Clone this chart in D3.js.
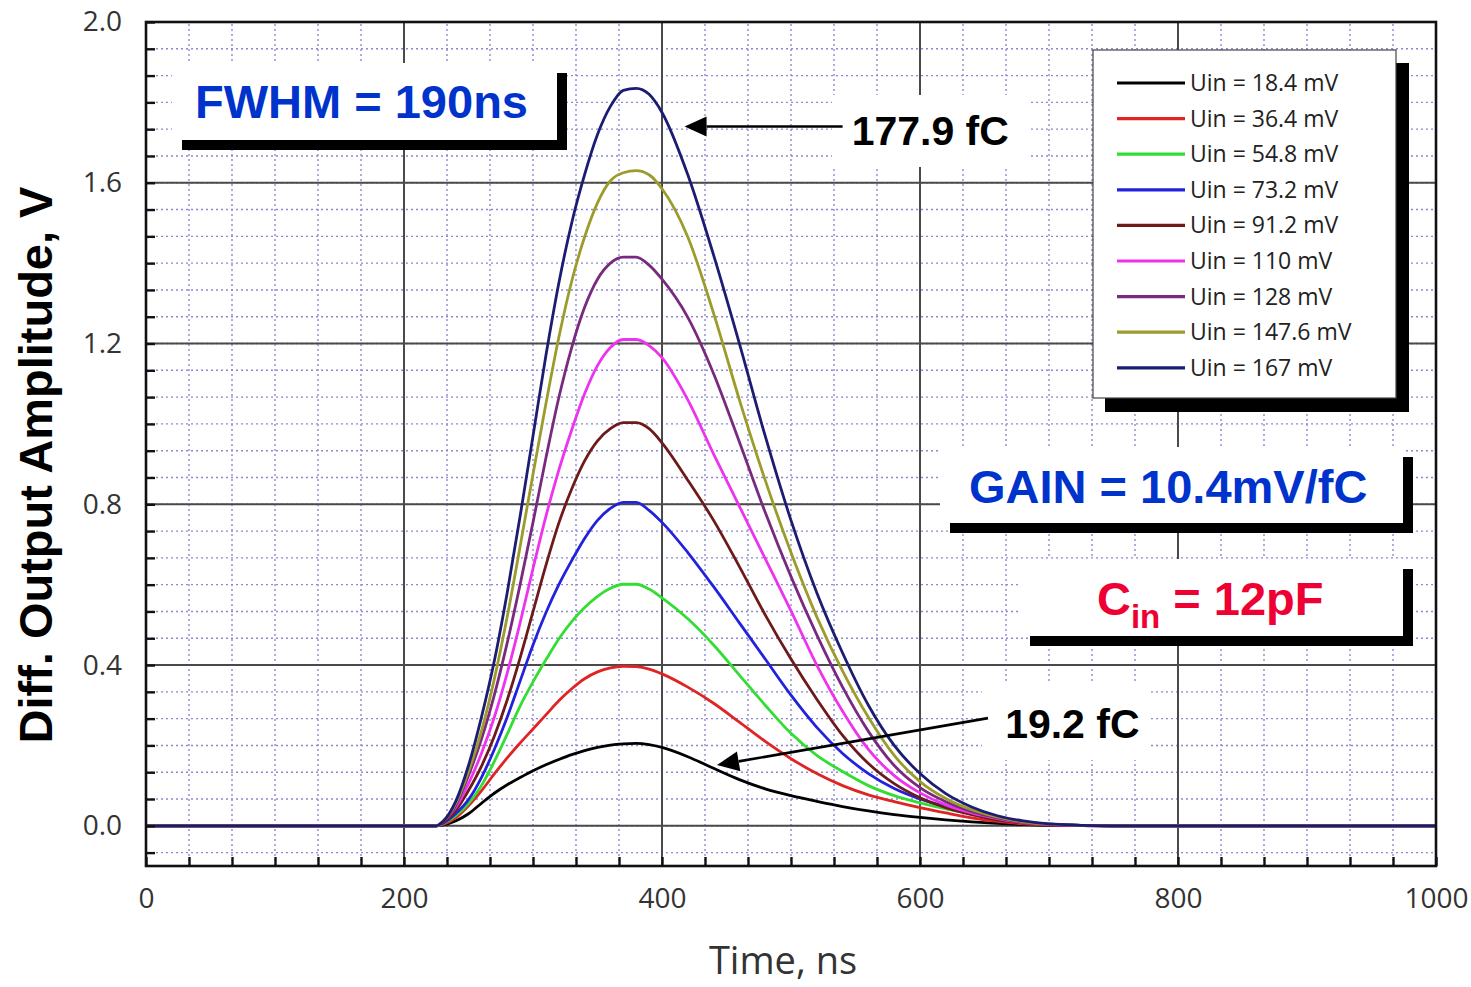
<!DOCTYPE html>
<html>
<head>
<meta charset="utf-8">
<script src="https://cdn.jsdelivr.net/npm/d3@7"></script>
<style>
  body { margin: 0; background: #fff; }
  svg { display: block; }
</style>
</head>
<body>
<svg id="chart" width="1471" height="987"></svg>
<script>
// DATA (time in ns, amplitude in V)
const times = [0, 100, 200, 225, 230, 240, 250, 260, 270, 280, 290, 300, 310, 320, 330, 340, 350, 360, 370, 380, 390, 400,
  420, 440, 460, 480, 500, 520, 540, 560, 580, 600, 620, 640, 660, 680, 700, 750, 800, 900, 1000];

const uin184 = [0, 0, 0, 0, 0.002, 0.012, 0.03, 0.056, 0.081, 0.102, 0.12, 0.137, 0.152, 0.165, 0.177, 0.187, 0.195, 0.201, 0.204, 0.205, 0.202, 0.195,
  0.172, 0.143, 0.115, 0.092, 0.075, 0.061, 0.048, 0.037, 0.028, 0.021, 0.015, 0.01, 0.006, 0.003, 0.001, 0, 0, 0, 0];
const uin364 = [0, 0, 0, 0, 0.003, 0.02, 0.05, 0.087, 0.129, 0.169, 0.206, 0.241, 0.276, 0.311, 0.341, 0.366, 0.383, 0.393, 0.397, 0.396, 0.39, 0.378,
  0.345, 0.305, 0.258, 0.21, 0.167, 0.13, 0.10, 0.077, 0.06, 0.045, 0.032, 0.02, 0.011, 0.005, 0.002, 0, 0, 0, 0];
const uin548 = [0, 0, 0, 0, 0.005, 0.025, 0.055, 0.10, 0.16, 0.228, 0.298, 0.358, 0.413, 0.465, 0.508, 0.543, 0.571, 0.591, 0.601, 0.601, 0.589, 0.567,
  0.515, 0.45, 0.375, 0.30, 0.23, 0.175, 0.135, 0.10, 0.075, 0.057, 0.042, 0.03, 0.018, 0.01, 0.004, 0, 0, 0, 0];
const uin732 = [0, 0, 0, 0, 0.006, 0.03, 0.065, 0.12, 0.19, 0.27, 0.36, 0.45, 0.53, 0.60, 0.66, 0.715, 0.76, 0.79, 0.805, 0.805, 0.785, 0.755,
  0.68, 0.595, 0.505, 0.415, 0.325, 0.245, 0.18, 0.13, 0.093, 0.067, 0.048, 0.033, 0.02, 0.01, 0.004, 0, 0, 0, 0];
const uin912 = [0, 0, 0, 0, 0.008, 0.038, 0.088, 0.148, 0.223, 0.313, 0.418, 0.533, 0.648, 0.753, 0.838, 0.908, 0.958, 0.988, 1.003, 1.003, 0.988, 0.953,
  0.86, 0.76, 0.645, 0.525, 0.415, 0.315, 0.225, 0.155, 0.105, 0.07, 0.045, 0.028, 0.015, 0.007, 0.002, 0, 0, 0, 0];
const uin110 = [0, 0, 0, 0, 0.01, 0.045, 0.105, 0.18, 0.27, 0.38, 0.505, 0.64, 0.77, 0.885, 0.985, 1.075, 1.145, 1.19, 1.21, 1.21, 1.195, 1.165,
  1.06, 0.925, 0.795, 0.665, 0.535, 0.40, 0.285, 0.19, 0.125, 0.082, 0.052, 0.032, 0.018, 0.008, 0.003, 0, 0, 0, 0];
const uin128 = [0, 0, 0, 0, 0.01, 0.05, 0.125, 0.215, 0.325, 0.455, 0.60, 0.755, 0.915, 1.065, 1.19, 1.29, 1.36, 1.40, 1.415, 1.415, 1.395, 1.36,
  1.265, 1.125, 0.955, 0.78, 0.62, 0.475, 0.345, 0.235, 0.15, 0.095, 0.06, 0.036, 0.02, 0.009, 0.003, 0, 0, 0, 0];
const uin1476 = [0, 0, 0, 0, 0.01, 0.055, 0.135, 0.235, 0.365, 0.52, 0.695, 0.875, 1.05, 1.215, 1.355, 1.465, 1.55, 1.605, 1.625, 1.63, 1.62, 1.585,
  1.465, 1.275, 1.06, 0.86, 0.68, 0.52, 0.385, 0.27, 0.175, 0.11, 0.068, 0.04, 0.022, 0.01, 0.004, 0, 0, 0, 0];
const uin167 = [0, 0, 0, 0, 0.01, 0.06, 0.15, 0.27, 0.41, 0.58, 0.77, 0.97, 1.17, 1.35, 1.50, 1.62, 1.72, 1.79, 1.83, 1.835, 1.82, 1.775,
  1.62, 1.42, 1.20, 0.97, 0.76, 0.58, 0.43, 0.30, 0.20, 0.13, 0.08, 0.047, 0.025, 0.012, 0.005, 0, 0, 0, 0];

const seriesNames = ["Uin = 18.4 mV", "Uin = 36.4 mV", "Uin = 54.8 mV", "Uin = 73.2 mV", "Uin = 91.2 mV",
  "Uin = 110 mV", "Uin = 128 mV", "Uin = 147.6 mV", "Uin = 167 mV"];
const seriesValues = [uin184, uin364, uin548, uin732, uin912, uin110, uin128, uin1476, uin167];

const xMajor = [0, 200, 400, 600, 800, 1000];
const yMajor = [0, 0.4, 0.8, 1.2, 1.6, 2.0];

// CANVAS SETUP
const svg = d3.select("#chart");
const width = 1471, height = 987;

const x = d3.scaleLinear().domain([0, 1000]).range([146, 1436]);
const y = d3.scaleLinear().domain([-0.1, 2.0]).range([866, 22]);

const color = d3.scaleOrdinal()
  .domain(seriesNames)
  .range(["#000000", "#e02424", "#33dd33", "#2222dd", "#6e1a1a", "#ee33ee", "#7a2a7e", "#9c9c2c", "#1c1c72"]);

const xMinor = d3.range(0, 31).map((i) => (i * 100) / 3);
const yMinor = d3.range(-1, 31).map((i) => (i * 0.4) / 6);

svg.append("rect").attr("width", width).attr("height", height).attr("fill", "#fff");

// grid
const grid = svg.append("g");
grid.selectAll(".vminor")
  .data(xMinor)
  .join("line")
  .attr("x1", (d) => x(d)).attr("x2", (d) => x(d))
  .attr("y1", y.range()[0]).attr("y2", y.range()[1])
  .attr("stroke", "#8a8ad0")
  .attr("stroke-width", 1.4)
  .attr("stroke-dasharray", "2,3");
grid.selectAll(".hminor")
  .data(yMinor)
  .join("line")
  .attr("x1", x.range()[0]).attr("x2", x.range()[1])
  .attr("y1", (d) => y(d)).attr("y2", (d) => y(d))
  .attr("stroke", "#8a8ad0")
  .attr("stroke-width", 1.4)
  .attr("stroke-dasharray", "2,3");
grid.selectAll(".vmajor")
  .data(xMajor)
  .join("line")
  .attr("x1", (d) => x(d)).attr("x2", (d) => x(d))
  .attr("y1", y.range()[0]).attr("y2", y.range()[1])
  .attr("stroke", "#4a4a4a")
  .attr("stroke-width", 2);
grid.selectAll(".hmajor")
  .data(yMajor)
  .join("line")
  .attr("x1", x.range()[0]).attr("x2", x.range()[1])
  .attr("y1", (d) => y(d)).attr("y2", (d) => y(d))
  .attr("stroke", "#4a4a4a")
  .attr("stroke-width", 2);

// RENDER curves
const data = seriesNames.map((name, i) => ({
  name,
  values: times.map((t, j) => ({ t, v: seriesValues[i][j] })),
}));

const line = d3.line()
  .x((d) => x(d.t))
  .y((d) => y(d.v))
  .curve(d3.curveMonotoneX);

svg.append("g")
  .selectAll("path")
  .data(data)
  .join("path")
  .attr("d", (d) => line(d.values))
  .attr("fill", "none")
  .attr("stroke", (d) => color(d.name))
  .attr("stroke-width", 2.8)
  .attr("stroke-linejoin", "round");

// frame and minor ticks
svg.append("rect")
  .attr("x", x.range()[0]).attr("y", y.range()[1])
  .attr("width", x.range()[1] - x.range()[0])
  .attr("height", y.range()[0] - y.range()[1])
  .attr("fill", "none")
  .attr("stroke", "#111")
  .attr("stroke-width", 2.6);

svg.append("g")
  .attr("transform", `translate(${x.range()[0]},0)`)
  .call(d3.axisLeft(y).tickValues(yMinor).tickSize(-9).tickFormat(""))
  .call((g) => g.select(".domain").remove())
  .call((g) => g.selectAll("line").attr("stroke", "#111").attr("stroke-width", 2.4));

svg.append("g")
  .attr("transform", `translate(0,${y.range()[0]})`)
  .call(d3.axisBottom(x).tickValues(xMinor).tickSize(-9).tickFormat(""))
  .call((g) => g.select(".domain").remove())
  .call((g) => g.selectAll("line").attr("stroke", "#111").attr("stroke-width", 2.4));

// tick labels
svg.append("g")
  .attr("transform", `translate(${x.range()[0]},0)`)
  .call(d3.axisLeft(y).tickValues(yMajor).tickFormat(d3.format(".1f")).tickSize(0).tickPadding(24))
  .call((g) => g.select(".domain").remove())
  .call((g) => g.selectAll("text")
    .attr("font-family", "Open Sans, sans-serif")
    .attr("font-size", 28)
    .attr("fill", "#333"));

svg.append("g")
  .attr("transform", `translate(0,${y.range()[0]})`)
  .call(d3.axisBottom(x).tickValues(xMajor).tickFormat(d3.format("d")).tickSize(0).tickPadding(22))
  .call((g) => g.select(".domain").remove())
  .call((g) => g.selectAll("text")
    .attr("font-family", "Open Sans, sans-serif")
    .attr("font-size", 28)
    .attr("fill", "#333"));

// axis titles
svg.append("text")
  .attr("x", 783).attr("y", 974)
  .attr("text-anchor", "middle")
  .attr("font-family", "Open Sans, sans-serif")
  .attr("font-size", 38)
  .attr("fill", "#333")
  .text("Time, ns");

svg.append("text")
  .attr("transform", "translate(52,465) rotate(-90)")
  .attr("text-anchor", "middle")
  .attr("font-family", "Liberation Sans, Arial, sans-serif")
  .attr("font-weight", "bold")
  .attr("font-size", 47)
  .attr("fill", "#000")
  .text("Diff. Output Amplitude, V");

// shadowed label boxes
function shadowBox(x0, y0, w, h) {
  svg.append("rect").attr("x", x0 + 10).attr("y", y0 + 10).attr("width", w).attr("height", h).attr("fill", "#000");
  svg.append("rect").attr("x", x0).attr("y", y0).attr("width", w).attr("height", h).attr("fill", "#fff");
}

shadowBox(172, 63, 385, 77);
svg.append("text")
  .attr("x", 195).attr("y", 118)
  .attr("font-family", "Liberation Sans, Arial, sans-serif")
  .attr("font-weight", "bold")
  .attr("font-size", 47)
  .attr("fill", "#0033cc")
  .text("FWHM = 190ns");

shadowBox(940, 447, 463, 76);
svg.append("text")
  .attr("x", 969).attr("y", 503)
  .attr("font-family", "Liberation Sans, Arial, sans-serif")
  .attr("font-weight", "bold")
  .attr("font-size", 47)
  .attr("fill", "#0033cc")
  .text("GAIN = 10.4mV/fC");

shadowBox(1020, 559, 383, 77);
const cin = svg.append("text")
  .attr("x", 1097).attr("y", 615)
  .attr("font-family", "Liberation Sans, Arial, sans-serif")
  .attr("font-weight", "bold")
  .attr("font-size", 47)
  .attr("fill", "#ee0033");
cin.append("tspan").text("C");
cin.append("tspan").attr("font-size", 33).attr("dy", 13).text("in");
cin.append("tspan").attr("dy", -13).text(" = 12pF");

// charge annotations with arrows
const notes = [
  { label: "177.9 fC", tip: [417.5, 1.74], tail: [540, 1.74], at: [547, 1.695], bg: [832, 95, 198, 72] },
  { label: "19.2 fC", tip: [442.6, 0.151], tail: [652.7, 0.268], at: [666, 0.2185], bg: [982, 684, 168, 76] },
];

notes.forEach((n) => {
  svg.append("rect")
    .attr("x", n.bg[0]).attr("y", n.bg[1]).attr("width", n.bg[2]).attr("height", n.bg[3])
    .attr("fill", "#fff");
  const tx = x(n.tip[0]), ty = y(n.tip[1]);
  const sx = x(n.tail[0]), sy = y(n.tail[1]);
  const a = Math.atan2(ty - sy, tx - sx);
  const len = 22, hw = 10;
  const bx = tx - len * Math.cos(a), by = ty - len * Math.sin(a);
  svg.append("line")
    .attr("x1", sx).attr("y1", sy).attr("x2", bx).attr("y2", by)
    .attr("stroke", "#000").attr("stroke-width", 2.6);
  svg.append("polygon")
    .attr("points", [
      [tx, ty],
      [bx + hw * Math.sin(a), by - hw * Math.cos(a)],
      [bx - hw * Math.sin(a), by + hw * Math.cos(a)],
    ].map((p) => p.join(",")).join(" "))
    .attr("fill", "#000");
  svg.append("text")
    .attr("x", x(n.at[0])).attr("y", y(n.at[1]))
    .attr("font-family", "Liberation Sans, Arial, sans-serif")
    .attr("font-weight", "bold")
    .attr("font-size", 41)
    .attr("fill", "#000")
    .text(n.label);
});

// legend
const lg = svg.append("g");
lg.append("rect").attr("x", 1105).attr("y", 63).attr("width", 304).attr("height", 349).attr("fill", "#000");
lg.append("rect").attr("x", 1093).attr("y", 50).attr("width", 303).attr("height", 348)
  .attr("fill", "#fff").attr("stroke", "#444").attr("stroke-width", 1.2);

const rows = lg.selectAll(".row")
  .data(seriesNames)
  .join("g")
  .attr("transform", (d, i) => `translate(0,${83 + i * 35.6})`);
rows.append("line")
  .attr("x1", 1117).attr("x2", 1185)
  .attr("stroke", (d) => color(d))
  .attr("stroke-width", 3.2);
rows.append("text")
  .attr("x", 1190)
  .attr("dy", "0.35em")
  .attr("font-family", "Open Sans, sans-serif")
  .attr("font-size", 23)
  .attr("fill", "#222")
  .text((d) => d);
</script>
</body>
</html>
